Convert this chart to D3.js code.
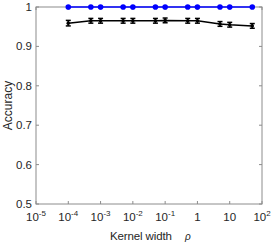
<!DOCTYPE html>
<html><head><meta charset="utf-8">
<script src="https://cdn.jsdelivr.net/npm/d3@7"></script>
<style>body{margin:0;background:#fff}text{font-family:"Liberation Sans",Arial,sans-serif}</style>
</head><body><svg id="c" width="273" height="245"></svg>
<script>
const kernelWidths = [1e-4, 5e-4, 1e-3, 5e-3, 1e-2, 5e-2, 0.1, 0.5, 1, 5, 10, 50];
const blueAcc = [1, 1, 1, 1, 1, 1, 1, 1, 1, 1, 1, 1];
const blackAcc = [0.959, 0.965, 0.965, 0.965, 0.965, 0.965, 0.966, 0.965, 0.965, 0.957, 0.955, 0.952];
const blackErr = [0.007, 0.006, 0.006, 0.006, 0.006, 0.006, 0.006, 0.006, 0.006, 0.006, 0.006, 0.006];
const xTicks = [1e-5, 1e-4, 1e-3, 1e-2, 1e-1, 1, 10, 100];
const xTickLabels = [["10","-5"],["10","-4"],["10","-3"],["10","-2"],["10","-1"],["1",""],["10",""],["10","2"]];
const yTicks = [0.5, 0.6, 0.7, 0.8, 0.9, 1];

const svg = d3.select("#c");
const L = 36, R = 262, T = 7, B = 204;
const x = d3.scaleLog().domain([1e-5, 100]).range([L, R]);
const y = d3.scaleLinear().domain([0.5, 1]).range([B, T]);
const axisCol = "#8c8c8c", txtCol = "#262626";

// box
svg.append("rect").attr("x", L).attr("y", T).attr("width", R - L).attr("height", B - T)
  .attr("fill", "none").attr("stroke", axisCol).attr("stroke-width", 1);

// ticks
const tl = 3;
xTicks.forEach(v => {
  svg.append("line").attr("x1", x(v)).attr("x2", x(v)).attr("y1", B).attr("y2", B - tl).attr("stroke", axisCol);
  svg.append("line").attr("x1", x(v)).attr("x2", x(v)).attr("y1", T).attr("y2", T + tl).attr("stroke", axisCol);
});
yTicks.forEach(v => {
  svg.append("line").attr("x1", L).attr("x2", L + tl).attr("y1", y(v)).attr("y2", y(v)).attr("stroke", axisCol);
  svg.append("line").attr("x1", R).attr("x2", R - tl).attr("y1", y(v)).attr("y2", y(v)).attr("stroke", axisCol);
});

// y tick labels
svg.selectAll(".yl").data(yTicks).enter().append("text")
  .attr("x", L - 4).attr("y", d => y(d) + 4).attr("text-anchor", "end")
  .attr("font-size", 11.5).attr("fill", txtCol).text(d => d === 1 ? "1" : d3.format(".1f")(d));

// x tick labels
xTicks.forEach((v, i) => {
  const [b, e] = xTickLabels[i];
  const t = svg.append("text").attr("x", x(v)).attr("y", 221).attr("text-anchor", "middle")
    .attr("font-size", 11.5).attr("fill", txtCol);
  t.append("tspan").text(b);
  if (e) t.append("tspan").attr("dy", -5).attr("font-size", 8).text(e);
});

// axis labels
svg.append("text").attr("transform", `translate(12,${(T + B) / 2}) rotate(-90)`)
  .attr("text-anchor", "middle").attr("font-size", 12).attr("fill", txtCol).text("Accuracy");
svg.append("text").attr("x", 110).attr("y", 240).attr("font-size", 11.5).attr("fill", txtCol)
  .attr("textLength", 62).text("Kernel width");
svg.append("text").attr("x", 185).attr("y", 240).attr("font-style", "italic").attr("font-family", "DejaVu Serif")
  .attr("font-size", 10).attr("fill", txtCol).text("\u03C1");

// black series
const line = d3.line().x(d => x(d[0])).y(d => y(d[1]));
const blk = kernelWidths.map((k, i) => [k, blackAcc[i], blackErr[i]]);
svg.append("path").datum(blk).attr("d", line).attr("fill", "none").attr("stroke", "#000").attr("stroke-width", 1.5);
blk.forEach(d => {
  const cx = x(d[0]), y1 = y(d[1] + d[2]), y2 = y(d[1] - d[2]);
  svg.append("line").attr("x1", cx).attr("x2", cx).attr("y1", y1).attr("y2", y2).attr("stroke", "#000").attr("stroke-width", 1.5);
  [y1, y2].forEach(yy => svg.append("line").attr("x1", cx - 2.5).attr("x2", cx + 2.5).attr("y1", yy).attr("y2", yy).attr("stroke", "#000").attr("stroke-width", 1.5));
  svg.append("circle").attr("cx", cx).attr("cy", y(d[1])).attr("r", 1.8).attr("fill", "#000");
});

// blue series
const blu = kernelWidths.map((k, i) => [k, blueAcc[i]]);
svg.append("path").datum(blu).attr("d", line).attr("fill", "none").attr("stroke", "#0000ff").attr("stroke-width", 1.5);
svg.selectAll(".bd").data(blu).enter().append("circle")
  .attr("cx", d => x(d[0])).attr("cy", d => y(d[1])).attr("r", 2.8).attr("fill", "#0000ff");
</script></body></html>
